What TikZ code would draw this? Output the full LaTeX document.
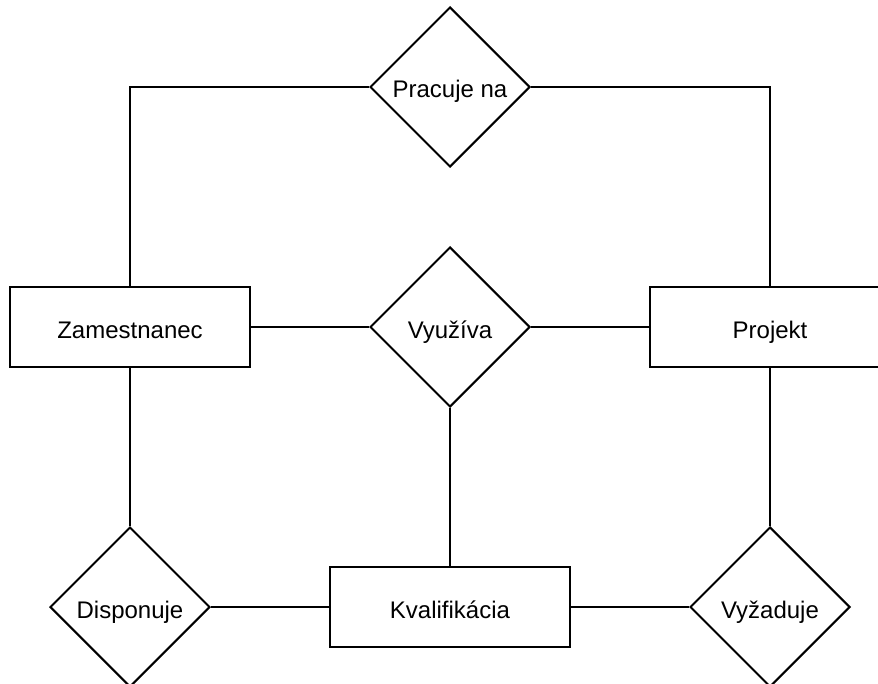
\documentclass[tikz,border=0pt]{standalone}
\usepackage{fontspec}
\setmainfont{Liberation Sans}
\usetikzlibrary{shapes.geometric}
\begin{document}
\begin{tikzpicture}[x=0.5pt,y=-0.5pt,
  label text/.style={font=\fontsize{12}{14}\selectfont, text height=11pt, text depth=0pt},
  entity/.style={draw, line width=1pt, minimum width=120pt, minimum height=40pt,
    inner sep=0pt, label text},
  relation/.style={draw, diamond, line width=1pt, minimum width=80pt, minimum height=80pt,
    inner sep=0pt, label text},
  link/.style={line width=1pt}]
\useasboundingbox (0,0) rectangle (878,684);
\clip (0,0) rectangle (878,684);

% entities
\node[entity] (zam)  at (130,327) {Zamestnanec};
\node[entity] (proj) at (770,327) {Projekt};
\node[entity] (kval) at (450,607) {Kvalifikácia};

% relationships
\node[relation] (prac) at (450,87)  {Pracuje na};
\node[relation] (vyu)  at (450,327) {Využíva};
\node[relation] (disp) at (130,607) {Disponuje};
\node[relation] (vyz)  at (770,607) {Vyžaduje};

% connectors
\draw[link] (zam.north) |- (prac.west);
\draw[link] (prac.east) -| (proj.north);
\draw[link] (zam.east) -- (vyu.west);
\draw[link] (vyu.east) -- (proj.west);
\draw[link] (vyu.south) -- (kval.north);
\draw[link] (zam.south) -- (disp.north);
\draw[link] (disp.east) -- (kval.west);
\draw[link] (kval.east) -- (vyz.west);
\draw[link] (proj.south) -- (vyz.north);
\end{tikzpicture}
\end{document}
